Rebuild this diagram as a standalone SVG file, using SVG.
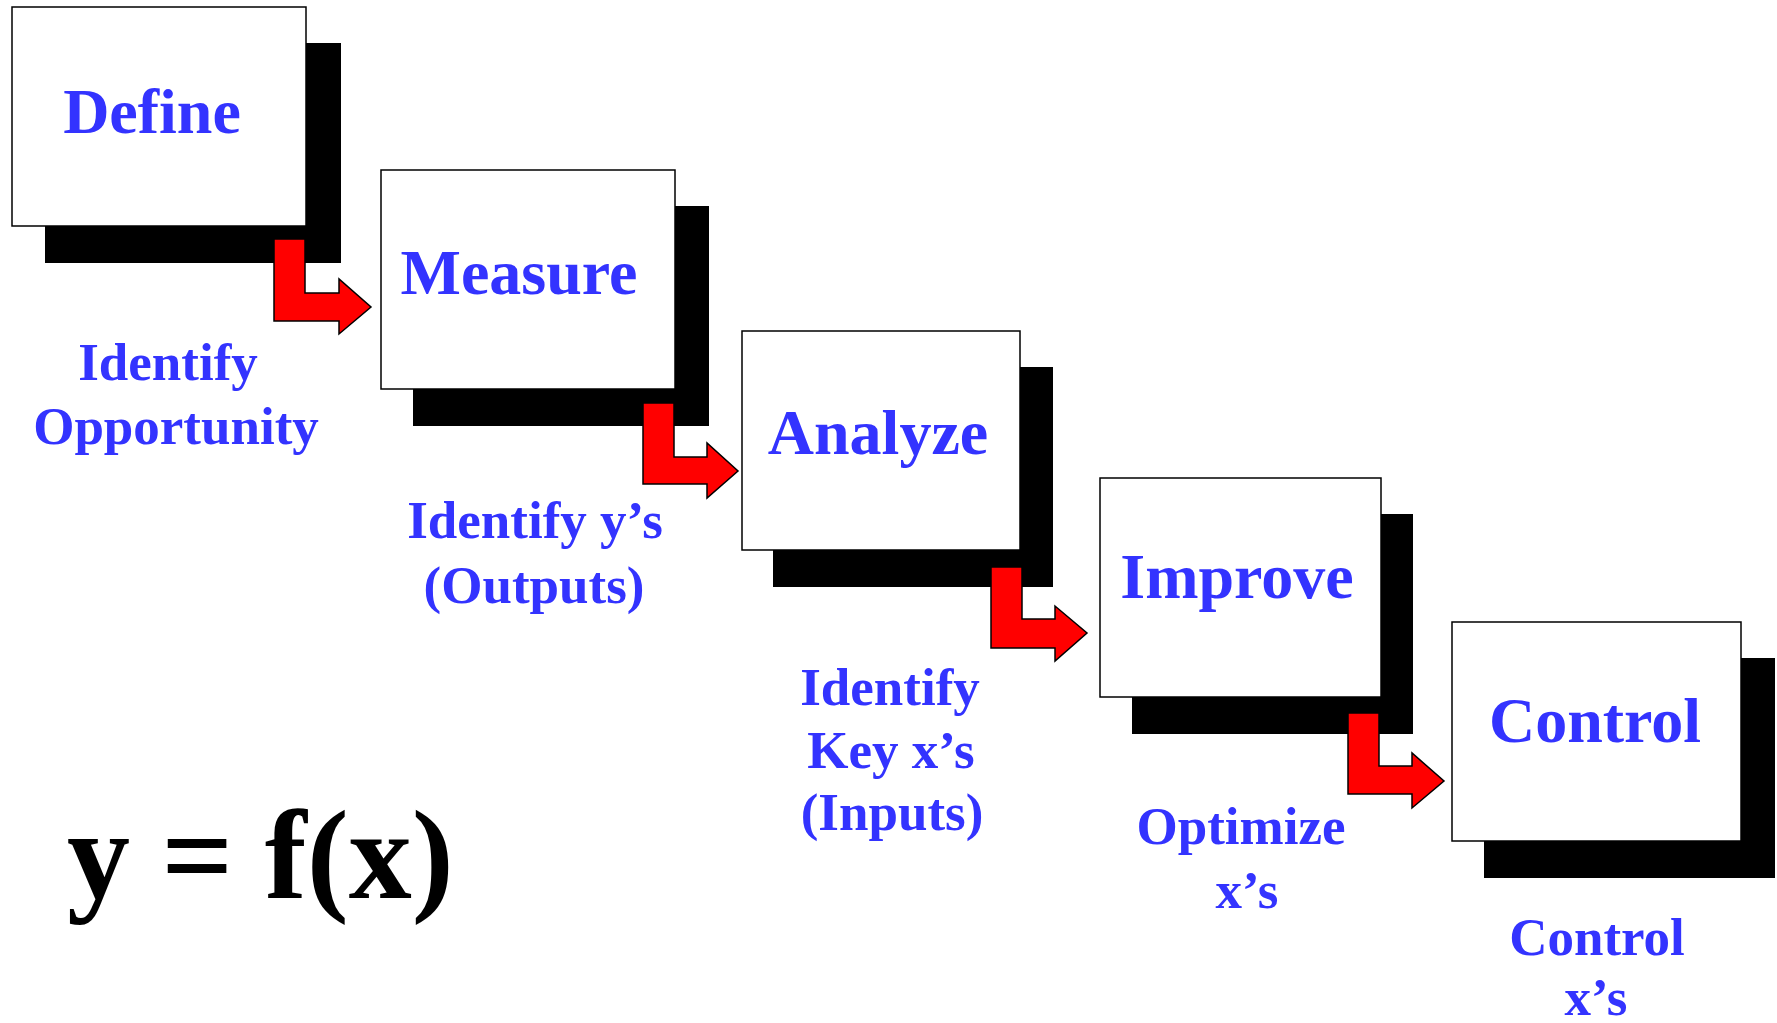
<svg xmlns="http://www.w3.org/2000/svg" width="1777" height="1023" viewBox="0 0 1777 1023">
  <style>
    .shadow { fill: #000000; }
    .box { fill: #ffffff; stroke: #000000; stroke-width: 1.5; }
    .title { font-family: "Liberation Serif", "Times New Roman", serif; font-weight: bold; font-size: 64px; fill: #3333FF; text-anchor: middle; }
    .note { font-family: "Liberation Serif", "Times New Roman", serif; font-weight: bold; font-size: 53px; fill: #3333FF; text-anchor: middle; }
    .formula { font-family: "Liberation Serif", "Times New Roman", serif; font-weight: bold; font-size: 126px; fill: #000000; }
    .step { fill: #ff0000; stroke: #000000; stroke-width: 1.5; stroke-linejoin: miter; }
  </style>
  <rect width="1777" height="1023" fill="#ffffff"/>

  <!-- phase boxes with drop shadows -->
  <g id="define">
    <rect class="shadow" x="45" y="43" width="296" height="220"/>
    <rect class="box" x="12" y="7" width="294" height="219"/>
    <text class="title" x="152" y="133">Define</text>
  </g>
  <g id="measure">
    <rect class="shadow" x="413" y="206" width="296" height="220"/>
    <rect class="box" x="381" y="170" width="294" height="219"/>
    <text class="title" x="519" y="294">Measure</text>
  </g>
  <g id="analyze">
    <rect class="shadow" x="773" y="367" width="280" height="220"/>
    <rect class="box" x="742" y="331" width="278" height="219"/>
    <text class="title" x="878" y="454">Analyze</text>
  </g>
  <g id="improve">
    <rect class="shadow" x="1132" y="514" width="281" height="220"/>
    <rect class="box" x="1100" y="478" width="281" height="219"/>
    <text class="title" x="1237" y="598">Improve</text>
  </g>
  <g id="control">
    <rect class="shadow" x="1484" y="658" width="291" height="220"/>
    <rect class="box" x="1452" y="622" width="289" height="219"/>
    <text class="title" x="1595" y="742">Control</text>
  </g>

  <!-- bent step arrows between phases -->
  <g id="connectors">
    <path class="step" d="M274,239 H305 V293 H339 V279 L371,307 L339,334 V321 H274 Z"/>
    <path class="step" d="M643,403 H674 V457 H707 V443 L738,471 L707,498 V484 H643 Z"/>
    <path class="step" d="M991,567 H1022 V619 H1055 V606 L1087,633 L1055,661 V648 H991 Z"/>
    <path class="step" d="M1348,713 H1379 V766 H1412 V753 L1444,781 L1412,808 V794 H1348 Z"/>
  </g>

  <!-- phase descriptions -->
  <g id="define-note">
    <text class="note" x="168" y="380">Identify</text>
    <text class="note" x="176" y="444">Opportunity</text>
  </g>
  <g id="measure-note">
    <text class="note" x="535" y="538">Identify y’s</text>
    <text class="note" x="534" y="603">(Outputs)</text>
  </g>
  <g id="analyze-note">
    <text class="note" x="890" y="705">Identify</text>
    <text class="note" x="891" y="768">Key x’s</text>
    <text class="note" x="892" y="830">(Inputs)</text>
  </g>
  <g id="improve-note">
    <text class="note" x="1241" y="844">Optimize</text>
    <text class="note" x="1247" y="908">x’s</text>
  </g>
  <g id="control-note">
    <text class="note" x="1597" y="955">Control</text>
    <text class="note" x="1596" y="1015">x’s</text>
  </g>

  <g id="formula">
    <text class="formula" x="67" y="898">y = f(x)</text>
  </g>
</svg>
